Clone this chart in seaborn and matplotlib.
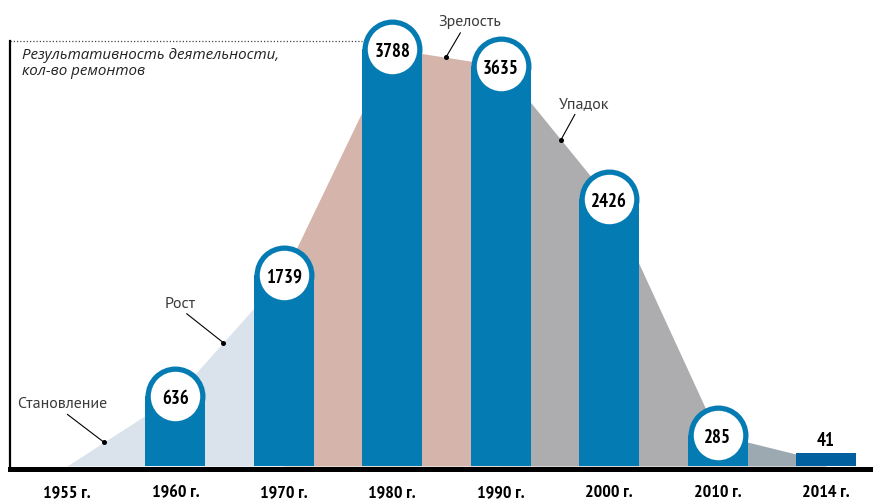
import numpy as np
import pandas as pd
import matplotlib
matplotlib.use("Agg")
import matplotlib.pyplot as plt
import seaborn as sns

# ---------------- data ----------------
years = ["1955 г.", "1960 г.", "1970 г.", "1980 г.", "1990 г.", "2000 г.", "2010 г.", "2014 г."]
repairs = [0, 636, 1739, 3788, 3635, 2426, 285, 41]
capped = [False, True, True, True, True, True, True, False]
phase_names = ["Становление", "Рост", "Зрелость", "Упадок"]
phase_pos = [0.34, 1.44, 3.495, 4.556]          # position along the time axis (category units)
phase_spans = [(0, 2), (2, 4), (4, 6), (6, 7)]  # category index ranges of each phase
title = "Результативность деятельности,\nкол-во ремонтов"

# ---------------- style ----------------
BLUE = "#047bb3"
DARK_BLUE = "#0060a0"
phase_colors = ["#dae2eb", "#d5b4ac", "#adadaf", "#9ca9b1"]
bar_colors = [BLUE if c else DARK_BLUE for c in capped]
MIN_VISIBLE = 115            # visual floor for tiny bars
BAR_W = 0.553
phase_offsets = [(-42, 39), (-43, 40), (24, 36), (23, 37)]
phase_relpos = [(0.5, 0.0), (0.54, 0.0), (0.39, 0.0), (0.37, 0.0)]

sns.set_style("white")
plt.rcParams["font.family"] = ["Open Sans", "DejaVu Sans"]
NARROW = ["PT Sans Narrow", "Roboto Condensed", "DejaVu Sans"]
HUMAN = ["PT Sans", "Open Sans", "DejaVu Sans"]

W, H, DPI = 875, 502, 100
fig = plt.figure(figsize=(W / DPI, H / DPI), dpi=DPI)
AX_L, AX_R, AX_T, AX_B = 10, 870, 42, 467
ax = fig.add_axes([AX_L / W, (H - AX_B) / H, (AX_R - AX_L) / W, (AX_B - AX_T) / H])

df = pd.DataFrame({"year": years, "repairs": repairs})
df["shown"] = [max(v, MIN_VISIBLE) if (v > 0 and not c) else v for v, c in zip(repairs, capped)]
x = np.arange(len(years))
vals = np.array(repairs, dtype=float)

# phase areas
for (a, b), col in zip(phase_spans, phase_colors):
    ax.fill_between(x[a:b + 1], 0, vals[a:b + 1], color=col, lw=0, zorder=0.5)

# bars
sns.barplot(data=df, x="year", y="shown", hue="year", palette=bar_colors,
            width=BAR_W, saturation=1, legend=False, ax=ax, zorder=2, linewidth=0)

xlim = (-0.526, 7.406)
ylim = (0, 3860)
ax.set_xlim(*xlim)
ax.set_ylim(*ylim)

# rounded caps with values
px_to_pt = 72 / DPI
bar_px = BAR_W * ((AX_R - AX_L) / (xlim[1] - xlim[0]))
cap_s = (bar_px * px_to_pt) ** 2
white_s = ((bar_px - 10.5) * px_to_pt) ** 2
for i, (v, c) in enumerate(zip(repairs, capped)):
    if not c:
        continue
    ax.scatter([i], [v], s=cap_s, color=BLUE, lw=0, zorder=3, clip_on=False)
    ax.scatter([i], [v], s=white_s, color="white", lw=0, zorder=4, clip_on=False)
    ax.text(i, v, f"{v}", ha="center", va="center_baseline", fontsize=13.5,
            fontweight="bold", family=NARROW, color="black", zorder=5)

# uncapped small bar label
for i, (v, c, s) in enumerate(zip(repairs, capped, df["shown"])):
    if c or v == 0:
        continue
    ax.annotate(f"{v}", (i, s), xytext=(0, 3), textcoords="offset points",
                ha="center", va="bottom", fontsize=13.5, fontweight="bold",
                family=NARROW, color="black", zorder=5)

# phase annotations
for name, pos, off, rp in zip(phase_names, phase_pos, phase_offsets, phase_relpos):
    yv = np.interp(pos, x, vals)
    ax.annotate(name, xy=(pos, yv), xytext=off, textcoords="offset pixels",
                ha="center", va="center", fontsize=11.5, color="#3a3a3a",
                family=HUMAN, annotation_clip=False, zorder=6,
                arrowprops=dict(arrowstyle="-", color="black", lw=0.8,
                                shrinkA=1, shrinkB=0, relpos=rp))
    ax.plot([pos], [yv], "o", ms=2.6, color="black", zorder=6, clip_on=False)

# dotted reference line at the top level, up to the tallest bar
imax = int(np.argmax(vals))
ax.axhline(ylim[1], xmin=0, xmax=(imax - BAR_W / 2 - xlim[0]) / (xlim[1] - xlim[0]),
           color="#444444", lw=0.9, ls=(0, (1, 1.6)), clip_on=False, zorder=1)

# title
ax.text(12 / (AX_R - AX_L), 1 - 6 / (AX_B - AX_T), title, transform=ax.transAxes,
        ha="left", va="top", fontsize=10.9, style="italic", color="#222222",
        linespacing=1.05)

# axes styling
ax.set_xlabel("")
ax.set_ylabel("")
ax.set_yticks([])
ax.set_xticks(x)
ax.set_xticks(x[:-1] + 0.5, minor=True)
ax.set_xticklabels(years, fontsize=13, fontweight="bold", family=NARROW)
ax.tick_params(axis="x", which="major", length=0, pad=11, labelsize=13,
               labelfontfamily="PT Sans Narrow", labelcolor="black")
ax.tick_params(axis="x", which="minor", direction="in", length=8.3, width=1.4,
               color="black", labelbottom=False)
for s in ["top", "right"]:
    ax.spines[s].set_visible(False)
ax.spines["left"].set_linewidth(1.6)
ax.spines["left"].set_color("black")
ax.spines["bottom"].set_linewidth(3.6)
ax.spines["bottom"].set_color("black")
ax.spines["bottom"].set_position(("outward", 1.8))
ax.set_axisbelow(False)
ax.patch.set_alpha(0)

fig.canvas.draw()
for tick in ax.xaxis.get_major_ticks():
    tick.label1.set_fontweight("bold")
    tick.label1.set_fontsize(13)
    tick.label1.set_fontfamily(NARROW)

fig.savefig("out.png", dpi=DPI)
